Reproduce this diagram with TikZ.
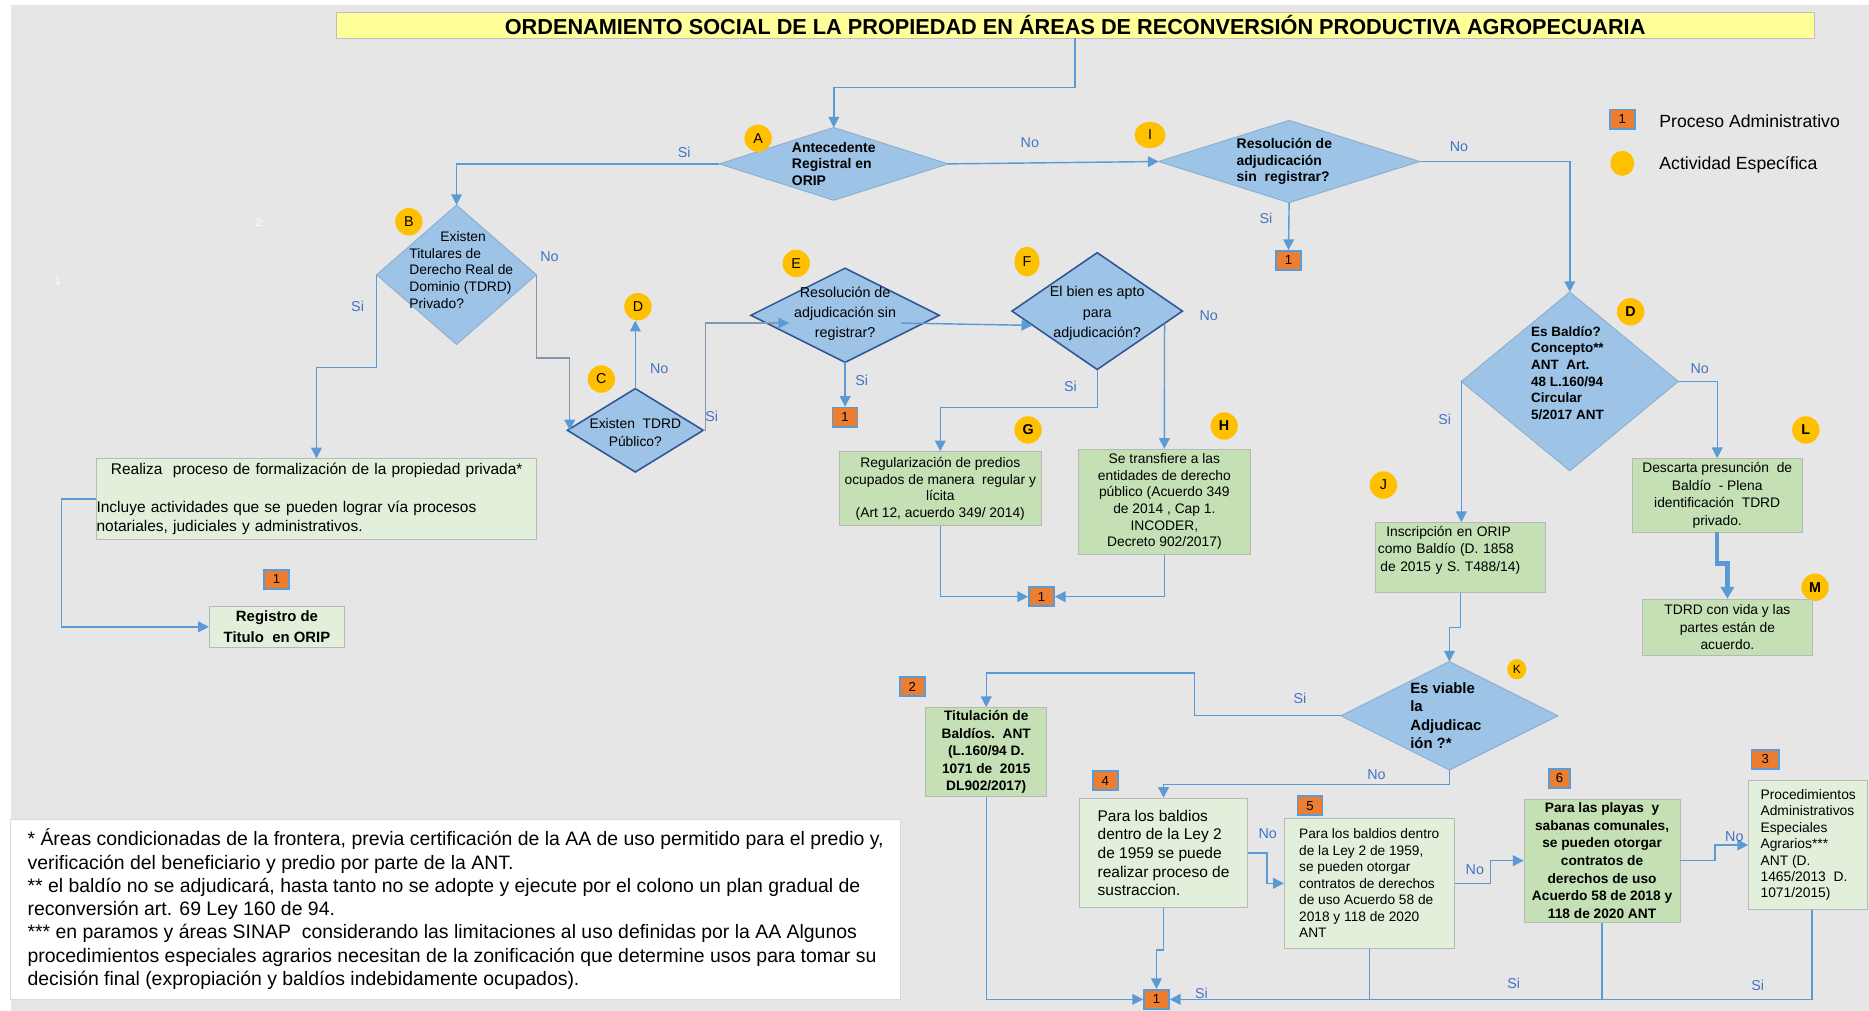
\documentclass[tikz,border=0pt]{standalone}
\usepackage{fontspec}
\setmainfont{Liberation Sans}
\usepackage{tikz}
\usetikzlibrary{arrows.meta}
\usetikzlibrary{positioning,calc}
\usetikzlibrary{shapes.geometric}
\usepackage{xcolor}
\definecolor{sheetgray}{HTML}{E6E6E6}
\definecolor{flowblue}{HTML}{9DC3E6}
\definecolor{edgeblue}{HTML}{2F5597}
\definecolor{connblue}{HTML}{5B9BD5}
\definecolor{connslate}{HTML}{8497B0}
\definecolor{textblue}{HTML}{4472C4}
\definecolor{procorange}{HTML}{ED7D31}
\definecolor{actyellow}{HTML}{FFC000}
\definecolor{greendark}{HTML}{C5E0B4}
\definecolor{greenlight}{HTML}{E2EFDA}
\definecolor{titleyellow}{HTML}{FFFF99}
\newcommand{\fsz}[2]{\fontsize{#1}{#2}\selectfont}
\tikzset{
    decision/.style={
        diamond,
        draw=flowblue!90!black,
        fill=flowblue,
        line width=0.8pt,
        inner sep=0pt,
        outer sep=0pt
    },
    decisiondark/.style={
        decision,
        draw=edgeblue,
        line width=1.3pt
    },
    activity/.style={
        ellipse,
        fill=actyellow,
        minimum width=23pt,
        minimum height=23pt,
        inner sep=0pt,
        font=\fsz{12}{12}
    },
    admin/.style={
        rectangle,
        fill=procorange,
        draw=connblue,
        line width=1.4pt,
        minimum width=21pt,
        minimum height=16pt,
        inner sep=0pt,
        font=\fsz{11}{11}
    },
    taskbox/.style={
        rectangle,
        draw=black!28,
        fill=greendark,
        line width=0.8pt,
        inner sep=0pt,
        align=center,
        font=\fsz{11.6}{14}
    },
    notebox/.style={
        taskbox,
        fill=greenlight
    },
    answer/.style={
        text=textblue,
        inner sep=0pt,
        font=\fsz{12}{12}
    },
    flow/.style={
        draw=connblue,
        line width=1.2pt,
        -{Triangle[length=9pt, width=9pt]}
    },
    flowslate/.style={
        draw=connslate,
        line width=1.2pt,
        -{Triangle[length=9pt, width=9pt, color=connblue]}
    },
    flowline/.style={
        draw=connblue,
        line width=1.2pt
    }
}

\begin{document}
\begin{tikzpicture}[x=1pt,y=-1pt]
    % Sheet
    \useasboundingbox (0,0) rectangle (1568,848);
    \fill[white] (0,0) rectangle (1568,848);
    \fill[sheetgray] (9,4) rectangle (1568,848);
    \node[text=white, inner sep=0pt, font=\fsz{9}{9}] (mark2) at (217,187) {2};
    \node[text=white, inner sep=0pt, font=\fsz{9}{9}] (mark1) at (48.5,236) {1};

    % Title
    \node[draw=black!25, fill=titleyellow, minimum width=1240pt, minimum height=22pt, inner sep=0pt, font=\fsz{18.2}{18}\bfseries] (title) at (902,21) {ORDENAMIENTO SOCIAL DE LA PROPIEDAD EN ÁREAS DE RECONVERSIÓN PRODUCTIVA AGROPECUARIA};

    % Legend
    \node[admin] (legbox) at (1361,100) {1};
    \node[anchor=west, inner sep=0pt, font=\fsz{14.8}{15}] (legproc) at (1392,102) {Proceso Administrativo};
    \node[activity, minimum width=20pt, minimum height=21pt] (legact) at (1361,137) {};
    \node[anchor=west, inner sep=0pt, font=\fsz{14.8}{15}] (legacttxt) at (1392,138) {Actividad Específica};

    % Decisions
    \node[decision, minimum width=192pt, minimum height=61pt,
          label={[align=left, font=\fsz{11.7}{14}\bfseries]center:{Antecedente\\Registral en\\ORIP}}] (A) at (699.5,137.5) {};
    \node[decision, minimum width=219pt, minimum height=69pt,
          label={[xshift=-4pt, align=left, font=\fsz{11.7}{14}\bfseries]center:{Resolución de\\adjudicación\\sin\ \ registrar?}}] (I) at (1081.5,135.5) {};
    \node[decision, minimum width=134pt, minimum height=117pt,
          label={[xshift=4pt, yshift=4pt, align=left, font=\fsz{11.6}{14}]center:{\hspace*{26pt}Existen\\Titulares de\\Derecho Real de\\Dominio (TDRD)\\Privado?}}] (B) at (383,230.5) {};
    \node[decisiondark, minimum width=114pt, minimum height=70pt,
          label={[yshift=-2pt, align=center, font=\fsz{11.6}{14.5}]center:{Existen\ \ TDRD\\Público?}}] (C) at (533,361) {};
    \node[decisiondark, minimum width=158pt, minimum height=79pt,
          label={[yshift=1.5pt, align=center, font=\fsz{12}{17}]center:{Resolución de\\adjudicación sin\\registrar?}}] (E) at (709,264.5) {};
    \node[decisiondark, minimum width=143pt, minimum height=98pt,
          label={[yshift=-2pt, align=center, font=\fsz{12}{17}]center:{El bien es apto\\para\\adjudicación?}}] (F) at (920.5,261) {};
    \node[decision, minimum width=182pt, minimum height=150pt,
          label={[yshift=7pt, xshift=-2pt, align=left, font=\fsz{11.3}{14}\bfseries]center:{Es Baldío?\\Concepto**\\ANT\ \ Art.\\48 L.160/94\\Circular\\5/2017 ANT}}] (D) at (1317,320) {};
    \node[decision, minimum width=182pt, minimum height=91pt,
          label={[xshift=-3pt, align=left, font=\fsz{12.5}{15.6}\bfseries]center:{Es viable\\la\\Adjudicac\\ión ?*}}] (K) at (1216,600.5) {};

    % Activity marks
    \node[activity] (actA) at (636,116) {A};
    \node[activity] (actB) at (343,186) {B};
    \node[activity] (actC) at (504.5,318) {C};
    \node[activity] (actDl) at (535.2,257.3) {D};
    \node[activity] (actE) at (668,221) {E};
    \node[activity, minimum width=21pt, minimum height=25pt] (actF) at (861.6,219.5) {F};
    \node[activity, font=\fsz{12}{12}\bfseries] (actG) at (862.5,360.7) {G};
    \node[activity, font=\fsz{12}{12}\bfseries] (actH) at (1027,357.4) {H};
    \node[activity, minimum width=26pt, minimum height=22pt] (actI) at (964.8,113.3) {I};
    \node[activity, font=\fsz{12}{12}\bfseries] (actDr) at (1368,261.5) {D};
    \node[activity] (actJ) at (1160.6,406.9) {J};
    \node[activity, minimum width=16pt, minimum height=17pt, font=\fsz{10}{10}] (actK) at (1272.5,561.5) {K};
    \node[activity, font=\fsz{12}{12}\bfseries] (actL) at (1515,360.7) {L};
    \node[activity, font=\fsz{12}{12}\bfseries] (actM) at (1522.7,492.7) {M};

    % Process boxes
    \node[notebox, minimum width=369pt, minimum height=67.5pt, text width=369pt, align=left, font=\fsz{13}{16}] (formal) at (265.5,418.75) {\hspace*{12pt}Realiza\ \ proceso de formalización de la propiedad privada*\\ \mbox{}\\ Incluye actividades que se pueden lograr vía procesos\\ notariales, judiciales y administrativos.};
    \node[notebox, minimum width=113.3pt, minimum height=35pt, font=\fsz{12.5}{18}\bfseries] (registro) at (232.35,525.9) {Registro de\\Titulo\ \ en ORIP};
    \node[taskbox, minimum width=169.7pt, minimum height=62pt] (regular) at (788.85,410) {Regularización de predios\\ocupados de manera\ \ regular y\\lícita\\(Art 12, acuerdo 349/ 2014)};
    \node[taskbox, minimum width=143.7pt, minimum height=87.8pt] (transf) at (976.85,420.9) {Se transfiere a las\\entidades de derecho\\público (Acuerdo 349\\de 2014 , Cap 1.\\INCODER,\\Decreto 902/2017)};
    \node[taskbox, minimum width=142.3pt, minimum height=58.5pt, inner xsep=2pt, text width=138.3pt, align=left, font=\fsz{11.6}{14.5}] (inscrip) at (1225.15,467.75) {\hspace*{7pt}Inscripción en ORIP\\como Baldío (D. 1858\\\hspace*{2pt}de 2015 y S. T488/14)\\ \mbox{}};
    \node[taskbox, minimum width=142.5pt, minimum height=61.5pt, font=\fsz{11.6}{15}] (discard) at (1440.65,415.55) {Descarta presunción\ \ de\\Baldío\ \ - Plena\\identificación\ \ TDRD\\privado.};
    \node[taskbox, minimum width=142.4pt, minimum height=46.7pt, font=\fsz{11.6}{15}] (tdrdvida) at (1449.2,526.15) {TDRD con vida y las\\partes están de\\acuerdo.};
    \node[taskbox, minimum width=101.2pt, minimum height=74.6pt, font=\fsz{11.5}{14.6}\bfseries] (titul) at (827.4,631) {Titulación de\\Baldíos.\ \ ANT\\(L.160/94 D.\\1071 de\ \ 2015\\DL902/2017)};
    \node[notebox, minimum width=140.5pt, minimum height=91.8pt, align=left, font=\fsz{13}{15.7}] (sustr) at (976.15,715.6) {Para los baldios\\dentro de la Ley 2\\de 1959 se puede\\realizar proceso de\\sustraccion.};
    \node[notebox, minimum width=142.5pt, minimum height=109.1pt, align=left, font=\fsz{11.5}{13.8}] (contrato) at (1148.75,741.05) {Para los baldios dentro\\de la Ley 2 de 1959,\\se pueden otorgar\\contratos de derechos\\de uso Acuerdo 58 de\\2018 y 118 de 2020\\ANT};
    \node[taskbox, minimum width=130.7pt, minimum height=103.5pt, font=\fsz{11.5}{14.8}\bfseries] (playas) at (1344.05,722.05) {Para las playas\ \ y\\sabanas comunales,\\se pueden otorgar\\contratos de\\derechos de uso\\Acuerdo 58 de 2018 y\\118 de 2020 ANT};
    \node[notebox, minimum width=100pt, minimum height=109pt, align=left, font=\fsz{11.6}{13.8}] (procesp) at (1517,708.9) {Procedimientos\\Administrativos\\Especiales\\Agrarios***\\ANT (D.\\1465/2013\ \ D.\\1071/2015)};

    % Administrative steps
    \node[admin] (admI) at (1081,218.5) {1};
    \node[admin] (admE) at (709,350) {1};
    \node[admin] (admGH) at (873.7,500.6) {1};
    \node[admin] (admReg) at (232,486) {1};
    \node[admin] (adm2) at (765.4,576) {2};
    \node[admin] (adm4) at (927.2,655) {4};
    \node[admin] (adm5) at (1099,676) {5};
    \node[admin, minimum width=18pt] (adm6) at (1308.3,653) {6};
    \node[admin, minimum width=23pt] (adm3) at (1481,637) {3};
    \node[admin] (admEnd) at (970.2,838.4) {1};

    % Footnotes
    \node[draw=black!15, fill=white, minimum width=746.5pt, minimum height=150.6pt, inner sep=0pt, align=left, font=\fsz{16.3}{19.5}] (notes) at (382.25,762.7) {* Áreas condicionadas de la frontera, previa certificación de la AA de uso permitido para el predio y,\\verificación del beneficiario y predio por parte de la ANT.\\** el baldío no se adjudicará, hasta tanto no se adopte y ejecute por el colono un plan gradual de\\reconversión art. 69 Ley 160 de 94.\\*** en paramos y áreas SINAP\ \ considerando las limitaciones al uso definidas por la AA Algunos\\procedimientos especiales agrarios necesitan de la zonificación que determine usos para tomar su\\decisión final (expropiación y baldíos indebidamente ocupados).};

    % Connectors
    \draw[flow] (title.south) -- ++(0,41) -| (A.north);
    \draw[flow] (A.west) -| (B.north);
    \draw[flow] (A.east) -- (I.west);
    \draw[flow] (I.south) -- (admI.north);
    \draw[flow] (I.east) -| (D.north);
    \draw[flow] (B.west) -- ++(0,78) -| (formal.north);
    \draw[flowslate] (B.east) -- ++(0,70) -| ([xshift=2pt]C.west);
    \draw[flow] (C.north) -- (C.north |- actDl.south);
    \draw[flowslate] (C.east) -- ++(2,0) |- ([xshift=32pt, yshift=-6.5pt]E.west);
    \draw[flow] ([xshift=-32pt, yshift=-6.5pt]E.east) -- ([xshift=17pt, yshift=-12pt]F.west);
    \draw[flow] (E.south) -- (admE.north);
    \draw[flow] (F.south) -- ++(0,32) -| (regular.north);
    \draw[flow] ($(F.east)!0.21!(F.south)$) -- (transf.north);
    \draw[flow] (regular.south) |- (admGH.west);
    \draw[flow] (transf.south) |- (admGH.east);
    \draw[flow] (formal.west) -- ++(-29,0) |- (registro.west);
    \draw[flow] (D.west) -- (D.west |- inscrip.north);
    \draw[flow] (D.east) -| (discard.north);
    \draw[draw=connblue, line width=3.5pt, -{Triangle[length=10pt, width=11pt]}] (discard.south) -- ++(0,26) -| (tdrdvida.north);
    \draw[flow] (inscrip.south) -- ++(0,29) -| (K.north);
    \draw[flow] (K.west) -| ++(-123,-36) -| (titul.north);
    \draw[flow] (K.south) -- ++(0,12) -| (sustr.north);
    \draw[flow] (sustr.east) -- ++(16,0) |- (contrato.west);
    \draw[flow] (contrato.east) -- ++(30,0) |- (playas.west);
    \draw[flow] (playas.east) -- ++(29,0) |- (procesp.west);
    \draw[flow] (titul.south) |- (admEnd.west);
    \draw[flow] (sustr.south) -- ++(0,35) -| (admEnd.north);
    \draw[flow] ([xshift=3pt]procesp.south) |- (admEnd.east);
    \draw[flowline] (contrato.south) -- (contrato.south |- admEnd.east);
    \draw[flowline] (playas.south) -- (playas.south |- admEnd.east);

    % Answers
    \node[answer] (sA) at (574,128) {Si};
    \node[answer] (nA) at (864,120) {No};
    \node[answer] (sI) at (1062,183) {Si};
    \node[answer] (nI) at (1224,123) {No};
    \node[answer] (sB) at (300,257) {Si};
    \node[answer] (nB) at (461,215) {No};
    \node[answer] (nC) at (553,309) {No};
    \node[answer] (sC) at (597,349) {Si};
    \node[answer] (sE) at (723,319) {Si};
    \node[answer] (sF) at (898,324) {Si};
    \node[answer] (nF) at (1014,265) {No};
    \node[answer] (sD) at (1212,352) {Si};
    \node[answer] (nD) at (1426,309) {No};
    \node[answer] (sK) at (1090.6,585.8) {Si};
    \node[answer] (nK) at (1154.8,649.6) {No};
    \node[answer] (n4) at (1063.5,699) {No};
    \node[answer] (n5) at (1237.3,729.9) {No};
    \node[answer] (n6) at (1455,702) {No};
    \node[answer] (sEnd1) at (1008,833) {Si};
    \node[answer] (sEnd2) at (1270,825) {Si};
    \node[answer] (sEnd3) at (1474.6,827) {Si};
\end{tikzpicture}
\end{document}
